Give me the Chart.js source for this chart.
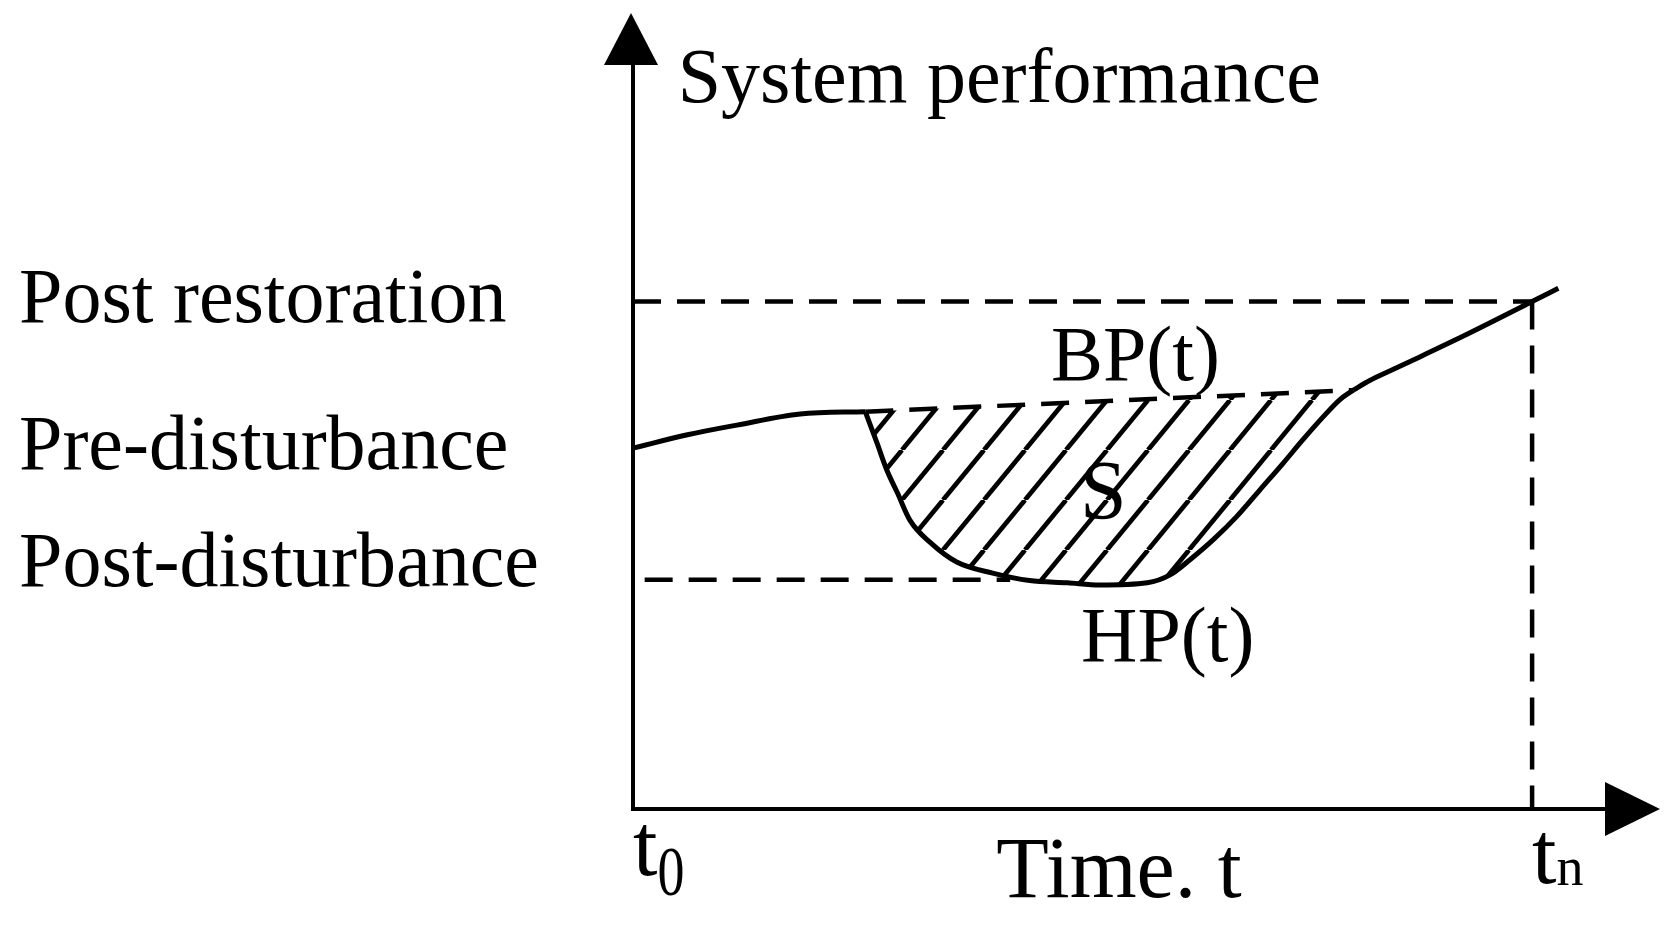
<!DOCTYPE html>
<html>
<head>
<meta charset="utf-8">
<script src="https://cdn.jsdelivr.net/npm/chart.js@4.4.1/dist/chart.umd.min.js"></script>
<style>
  html, body { margin: 0; padding: 0; background: #fff; }
  #wrap { width: 1672px; height: 931px; }
</style>
</head>
<body>
<div id="wrap"><canvas id="chart"></canvas></div>
<script>
// pre-disturbance part of the performance curve
const preX = [0, 5.6, 10.7, 17.2, 23.9];
const preY = [48.5, 50.3, 51.6, 53.1, 53.4];

// HP(t): performance under the disturbance
const hpX = [23.9, 25.1, 26.1, 27.2, 28.5, 30.6, 33.3, 37.0, 40.8, 44.7, 48.0, 52.9, 55.3, 57.3, 59.7, 62.1, 64.5, 66.9, 68.9, 71.0, 72.7, 74.1];
const hpY = [53.4, 49.2, 45.6, 42.5, 38.8, 35.8, 33.2, 31.7, 30.7, 30.4, 30.1, 30.4, 31.5, 33.5, 36.2, 39.3, 42.9, 46.5, 49.6, 52.7, 55.0, 56.3];

// BP(t): baseline performance without the disturbance
const bpX = [23.9, 74.1];
const bpY = [53.4, 56.3];

// restoration part of the curve up to t_n
const recX = [74.1, 75.8, 77.9, 81.0, 85.8, 92.5, 95.2];
const recY = [56.3, 57.6, 58.9, 60.8, 63.8, 68.2, 70.0];

// reference levels
const tn = 92.5;
const postRestoration = 68.2;
const postDisturbance = 30.8;
const postDistStart = 1.2;
const postDistEnd = 38.8;

// y axis labels
const yTickValues = [68.2, 48.4, 32.7];
const yTickLabels = ['Post restoration', 'Pre-disturbance', 'Post-disturbance'];

const zip = (xs, ys) => xs.map((x, i) => ({ x, y: ys[i] }));

Chart.defaults.font.family = '"Liberation Serif", "Times New Roman", serif';
Chart.defaults.color = '#000';

function hatchPattern(ctx) {
  const w = 41, h = 50;
  const tile = document.createElement('canvas');
  tile.width = w;
  tile.height = h;
  const c = tile.getContext('2d');
  c.strokeStyle = '#000';
  c.lineWidth = 4.6;
  for (const ox of [-w, 0, w]) {
    c.beginPath();
    c.moveTo(ox, h);
    c.lineTo(ox + w, 0);
    c.stroke();
  }
  return ctx.createPattern(tile, 'repeat');
}

// arrow heads, axis end labels and the text inside the plot
const decorations = {
  id: 'decorations',
  afterDraw(chart) {
    const { ctx, chartArea: a, scales: { x, y } } = chart;
    ctx.save();
    ctx.fillStyle = '#000';

    ctx.beginPath();
    ctx.moveTo(a.left - 2, a.top - 52);
    ctx.lineTo(a.left - 29, a.top);
    ctx.lineTo(a.left + 25, a.top);
    ctx.closePath();
    ctx.fill();

    ctx.beginPath();
    ctx.moveTo(a.right + 55, a.bottom);
    ctx.lineTo(a.right, a.bottom - 27);
    ctx.lineTo(a.right, a.bottom + 27);
    ctx.closePath();
    ctx.fill();

    ctx.textBaseline = 'alphabetic';
    ctx.textAlign = 'left';

    const notes = [
      { text: 'System performance', x: 4.6, y: 95.0, size: 78 },
      { text: 'BP(t)', x: 43.0, y: 57.7, size: 78 },
      { text: 'S', x: 46.0, y: 39.0, size: 84 },
      { text: 'HP(t)', x: 46.1, y: 19.9, size: 78 }
    ];
    notes.forEach(n => {
      ctx.font = n.size + 'px "Liberation Serif"';
      ctx.fillText(n.text, x.getPixelForValue(n.x), y.getPixelForValue(n.y));
    });

    // t0 and tn under the time axis
    const tLabel = (value, sub, base, subBase, subStretch) => {
      const px = x.getPixelForValue(value);
      ctx.font = '88px "Liberation Serif"';
      ctx.fillText('t', px, a.bottom + base);
      const tw = ctx.measureText('t').width;
      ctx.font = '54px "Liberation Serif"';
      ctx.save();
      ctx.translate(px + tw, a.bottom + subBase);
      ctx.scale(1, subStretch);
      ctx.fillText(sub, 0, 0);
      ctx.restore();
    };
    tLabel(0, '0', 66, 86, 1.28);
    tLabel(tn, 'n', 74, 76, 1);

    ctx.restore();
  }
};

const ctx = document.getElementById('chart').getContext('2d');
const hatch = hatchPattern(ctx);

const line = (data, extra) => Object.assign({
  data,
  borderColor: '#000',
  borderWidth: 5,
  pointRadius: 0,
  fill: false
}, extra);

new Chart(ctx, {
  type: 'line',
  data: {
    datasets: [
      line(zip(preX, preY), { cubicInterpolationMode: 'monotone' }),
      line(zip(hpX, hpY), { cubicInterpolationMode: 'monotone', fill: '+1', backgroundColor: hatch }),
      line(zip(bpX, bpY), { borderWidth: 4.5, borderDash: [28, 16] }),
      line(zip(recX, recY), { cubicInterpolationMode: 'monotone' }),
      line(zip([0, tn], [postRestoration, postRestoration]), { borderWidth: 4.5, borderDash: [28, 16] }),
      line(zip([tn, tn], [postRestoration, 0]), { borderWidth: 4.5, borderDash: [28, 16] }),
      line(zip([postDistStart, postDistEnd], [postDisturbance, postDisturbance]), { borderWidth: 4.5, borderDash: [28, 16] })
    ]
  },
  options: {
    responsive: true,
    maintainAspectRatio: false,
    animation: false,
    layout: { padding: { left: 19, top: 65, right: 67, bottom: 0 } },
    plugins: {
      legend: { display: false },
      tooltip: { enabled: false },
      filler: { drawTime: 'beforeDatasetsDraw' }
    },
    scales: {
      x: {
        type: 'linear',
        min: 0,
        max: 100,
        grid: { display: false },
        border: { display: true, color: '#000', width: 4 },
        ticks: { display: false },
        title: {
          display: true,
          text: 'Time. t',
          font: { size: 86 },
          padding: { top: 0, bottom: 5 }
        },
        afterFit: scale => { scale.height = 122; }
      },
      y: {
        type: 'linear',
        min: 0,
        max: 100,
        grid: { display: false },
        border: { display: true, color: '#000', width: 4 },
        ticks: {
          autoSkip: false,
          crossAlign: 'far',
          font: { size: 78 },
          callback: (value, i) => yTickLabels[i]
        },
        afterBuildTicks: scale => {
          scale.ticks = yTickValues.map(v => ({ value: v }));
        },
        afterFit: scale => { scale.width = 614; }
      }
    }
  },
  plugins: [decorations]
});
</script>
</body>
</html>
